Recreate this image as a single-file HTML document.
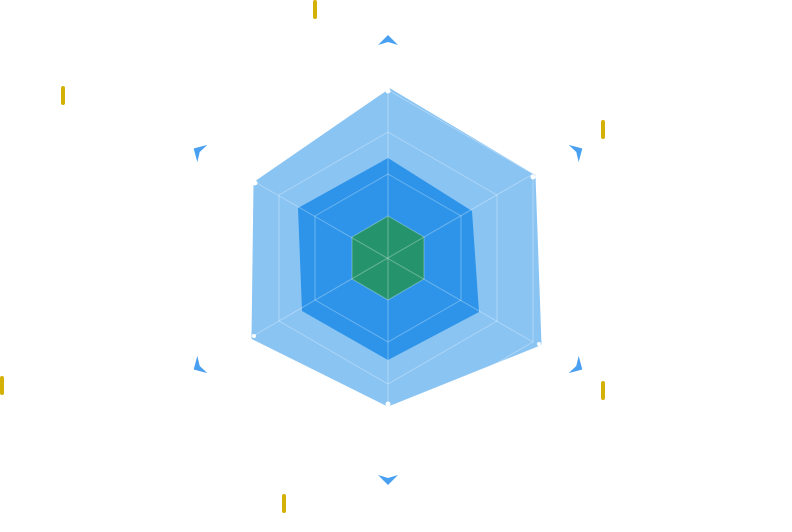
<!DOCTYPE html>
<html><head><style>html,body{margin:0;padding:0;background:#fff;width:792px;height:532px;overflow:hidden}</style></head>
<body>
<svg width="792" height="532" viewBox="0 0 792 532" xmlns="http://www.w3.org/2000/svg">
<polygon points="390,90 534,176 540,344 388,405 253,338 255,183" fill="#8ac4f3" stroke="#8ac4f3" stroke-width="3" stroke-linejoin="round"/>
<polygon points="388,158 472,211 479,312 388,360 302,311 298,208" fill="#2d94e9"/>
<polygon points="388,216 424,237 424,279 388,300 352,279 352,237" fill="#25946c"/>
<g fill="none" stroke="#ffffff" stroke-opacity="0.3" stroke-width="1">
<polygon points="388,216 424,237 424,279 388,300 352,279 352,237"/>
<polygon points="388,174 461,216 461,300 388,342 315,300 315,216"/>
<polygon points="388,132 497,195 497,321 388,384 279,321 279,195"/>
<polygon points="388,90 533,174 533,342 388,426 243,342 243,174"/>
<line x1="388" y1="90" x2="388" y2="405"/>
<line x1="255" y1="182" x2="533" y2="342"/>
<line x1="533" y1="174" x2="253" y2="336"/>
</g>
<g fill="#fff">
<circle cx="388" cy="91" r="2.5"/><circle cx="533" cy="177" r="2.5"/><circle cx="539" cy="344" r="2"/>
<circle cx="388" cy="404" r="2.5"/><circle cx="254" cy="336" r="2"/><circle cx="255" cy="183" r="2.5"/>
</g>
<g fill="#4aa0f0">
<g transform="translate(388,40) rotate(0)"><path d="M-10,5 L0,-5 L10,5 L0,2 Z"/></g>
<g transform="translate(578,151) rotate(60)"><path d="M-10,5 L0,-5 L10,5 L0,2 Z"/></g>
<g transform="translate(578,367) rotate(120)"><path d="M-10,5 L0,-5 L10,5 L0,2 Z"/></g>
<g transform="translate(388,480) rotate(180)"><path d="M-10,5 L0,-5 L10,5 L0,2 Z"/></g>
<g transform="translate(198,367) rotate(240)"><path d="M-10,5 L0,-5 L10,5 L0,2 Z"/></g>
<g transform="translate(198,151) rotate(300)"><path d="M-10,5 L0,-5 L10,5 L0,2 Z"/></g>
</g>
<g fill="#d4b106">
<rect x="313" y="0" width="4" height="19" rx="2"/>
<rect x="61" y="86" width="4" height="19" rx="2"/>
<rect x="601" y="120" width="4" height="19" rx="2"/>
<rect x="601" y="381" width="4" height="19" rx="2"/>
<rect x="0" y="376" width="4" height="19" rx="2"/>
<rect x="282" y="494" width="4" height="19" rx="2"/>
</g>
</svg>
</body></html>
